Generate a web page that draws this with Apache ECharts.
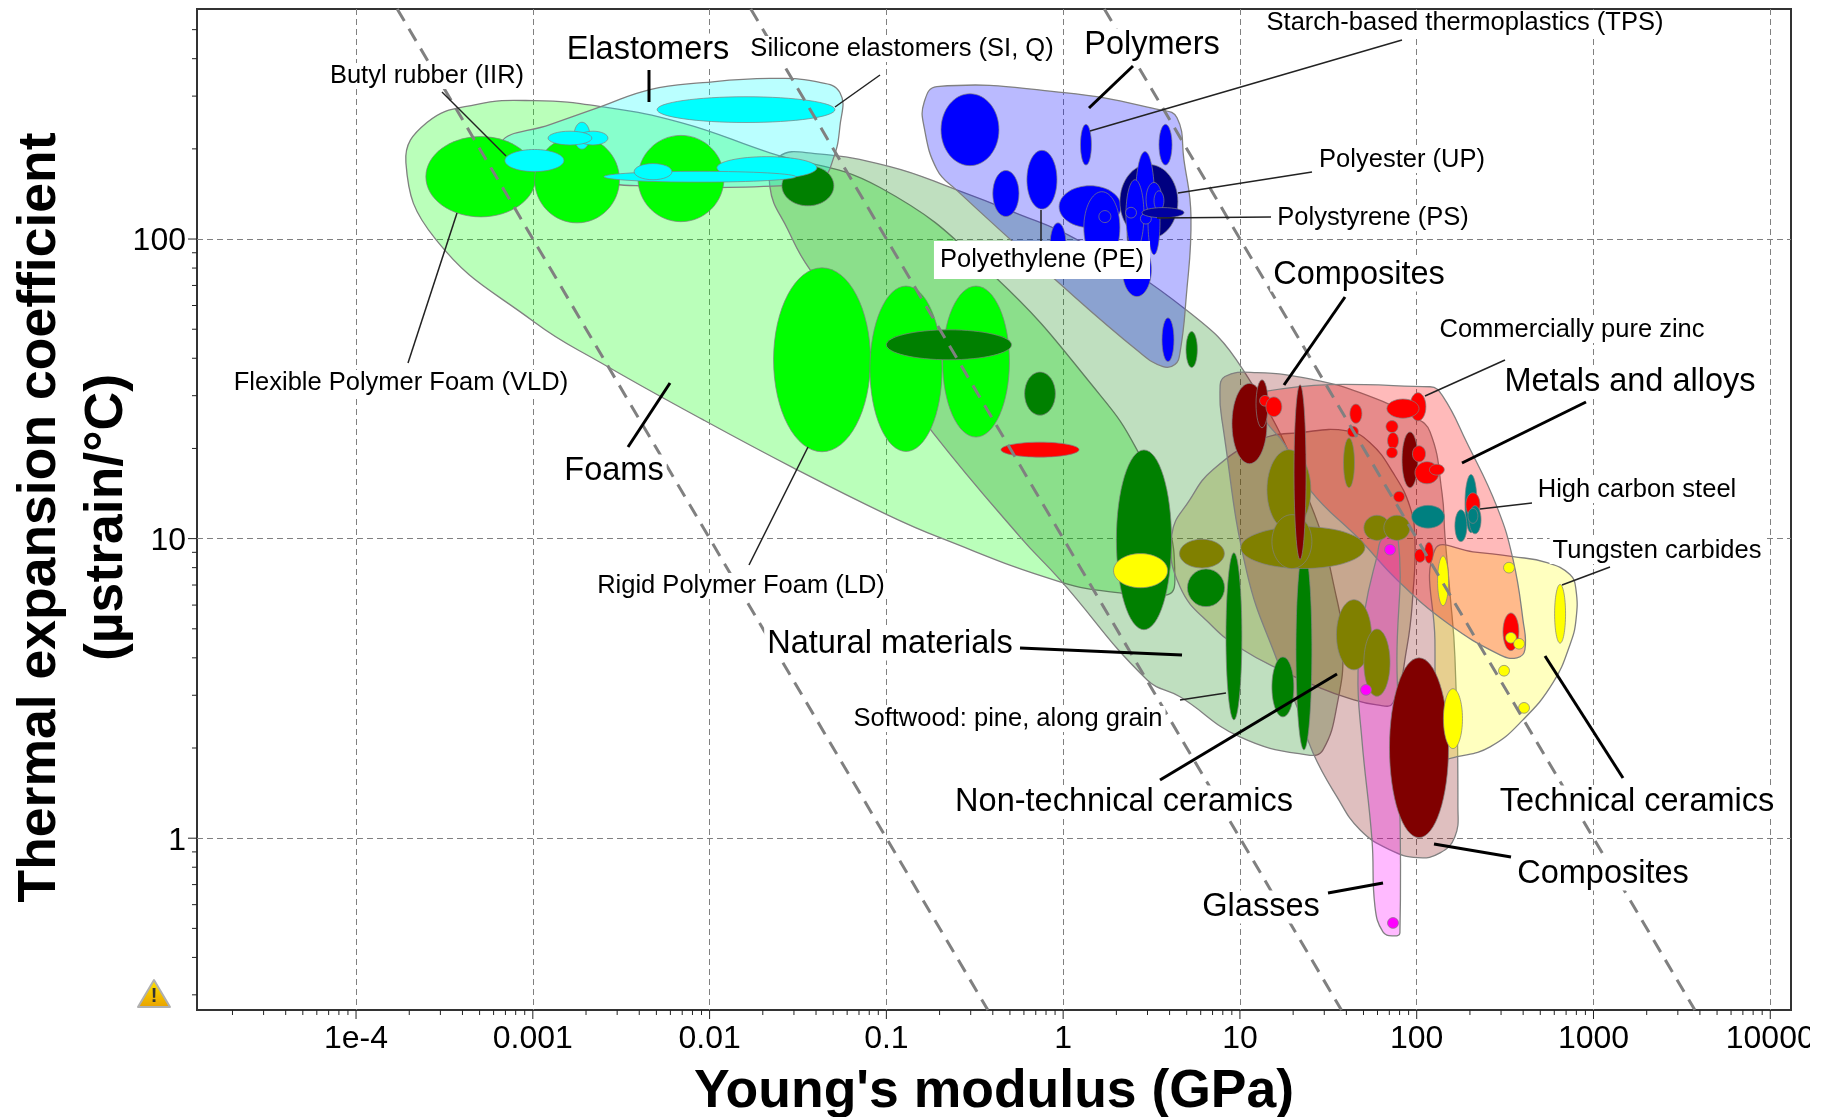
<!DOCTYPE html>
<html>
<head>
<meta charset="utf-8">
<title>Thermal expansion vs Young's modulus</title>
<script src="https://cdn.jsdelivr.net/npm/echarts@6/dist/echarts.min.js"></script>
<style>
  html, body { margin: 0; padding: 0; background: #fff; }
  #chart { width: 1831px; height: 1117px; }
</style>
</head>
<body>
<div id="chart"></div>
<script>
// all material values below are read off the chart as decades:
// outlines  [log10 modulus, log10 expansion]
// bubbles   [log10 modulus, log10 expansion, half width, half height]

const xRange = [1.26e-5, 13100]
const yRange = [0.267, 586]
const xTickValues = [1e-4, 1e-3, 1e-2, 1e-1, 1, 10, 100, 1000, 10000]
const xTickLabels = ['1e-4', '0.001', '0.01', '0.1', '1', '10', '100', '1000', '10000']
const yTickValues = [1, 10, 100]
const yTickLabels = ['1', '10', '100']
const xMinorDecades = [1e-5, 1e-4, 1e-3, 1e-2, 1e-1, 1, 10, 100, 1000, 10000]
const yMinorDecades = [0.1, 1, 10, 100]
const minorSteps = [2, 3, 4, 5, 6, 7, 8, 9]

// dashed guide lines (modulus x expansion = constant)
const guideLow = [[1.71e-4, 586], [0.375, 0.267]]
const guideMid = [[0.0171, 586], [37.5, 0.267]]
const guideHigh = [[1.71, 586], [3745, 0.267]]

// envelopes
const foamOutline = [[-3.718,2.255],[-3.599,2.389],[-3.322,2.449],[-2.994,2.462],[-2.615,2.442],[-2.162,2.389],[-1.659,2.288],[-1.036,2.172],[-.386,1.874],[.208,1.480],[.417,1.297],[.587,1.063],[.632,.869],[.593,.813],[.321,.819],[-.018,.856],[-.697,1.003],[-.997,1.080],[-1.529,1.237],[-2.038,1.397],[-2.615,1.587],[-2.994,1.724],[-3.548,1.998]]
const naturalOutline = [[-1.659,2.175],[-1.608,2.275],[-1.404,2.285],[-.980,2.242],[-.606,2.165],[-.284,2.091],[.078,1.998],[.695,1.764],[1.017,1.564],[1.396,1.120],[1.549,.796],[1.583,.629],[1.555,.462],[1.470,.295],[1.379,.278],[1.000,.338],[.661,.472],[.474,.529],[-.018,.863],[-.244,1.006],[-.737,1.354],[-1.432,1.898],[-1.557,2.031]]
const elastomerOutline = [[-3.175,2.325],[-2.903,2.382],[-2.615,2.442],[-2.337,2.499],[-2.038,2.522],[-1.659,2.536],[-1.404,2.526],[-1.263,2.489],[-1.263,2.375],[-1.302,2.265],[-1.364,2.205],[-1.579,2.178],[-2.417,2.178],[-2.677,2.198],[-3.022,2.248]]
const polymerOutline = [[-.714,2.509],[.005,2.489],[.542,2.432],[.644,2.405],[.683,2.265],[.723,2.075],[.695,1.798],[.661,1.621],[.632,1.581],[.565,1.574],[.434,1.621],[-.063,1.874],[-.606,2.165],[-.714,2.232],[-.787,2.375],[-.787,2.455]]
const ceramicOutline = [[.615,1.013],[.717,1.130],[.847,1.230],[1.113,1.330],[1.340,1.354],[1.605,1.360],[1.736,1.320],[1.866,1.220],[1.962,1.106],[1.990,.996],[1.979,.819],[1.945,.639],[1.866,.452],[1.775,.445],[1.605,.469],[1.453,.502],[1.227,.562],[1.017,.629],[.847,.706],[.661,.839]]
const compositeOutline = [[.887,1.487],[.915,1.541],[1.096,1.554],[1.413,1.531],[1.679,1.487],[1.979,1.407],[2.075,1.357],[2.143,1.153],[2.160,1.006],[2.188,.819],[2.216,.606],[2.233,.105],[2.216,.005],[2.132,-.049],[2.007,-.065],[1.849,-.039],[1.679,.028],[1.549,.138],[1.413,.285],[1.323,.439],[1.209,.596],[1.040,.886],[.904,1.374]]
const technicalOutline = [[2.103,.963],[2.318,.956],[2.545,.940],[2.737,.920],[2.867,.880],[2.901,.829],[2.901,.729],[2.867,.646],[2.771,.519],[2.601,.395],[2.415,.305],[2.228,.272],[2.160,.272],[2.115,.395],[2.103,.662]]
const metalOutline = [[1.125,1.490],[2.075,1.507],[2.149,1.474],[2.284,1.320],[2.454,1.106],[2.545,.930],[2.601,.729],[2.612,.629],[2.567,.602],[2.471,.612],[2.171,.719],[1.888,.863],[1.679,.996],[1.396,1.163],[1.255,1.313],[1.125,1.414]]
const glassOutline = [[1.809,1.003],[1.894,1.003],[1.888,.596],[1.894,.439],[1.905,-.316],[1.866,-.326],[1.809,-.313],[1.764,-.229],[1.747,-.005],[1.690,.329],[1.668,.552],[1.707,.763],[1.775,.940]]

// material bubbles
const foamBubbles = [[-3.294,2.208,.311,.134],[-2.750,2.198,.240,.144],[-2.162,2.202,.243,.144],[-1.364,1.597,.274,.307],[-.889,1.567,.204,.276],[-.493,1.591,.189,.252]]
const naturalBubbles = [[-1.444,2.178,.147,.067],[-.646,1.647,.354,.050],[-.131,1.484,.087,.072],[.727,1.631,.032,.060],[.457,.996,.156,.300],[.808,.836,.105,.063],[.966,.674,.045,.279],[1.243,.505,.062,.100],[1.362,.629,.045,.334]]
const elastomerBubbles = [[-1.794,2.432,.503,.043],[-2.991,2.262,.167,.037],[-2.722,2.345,.045,.045],[-2.660,2.337,.085,.023],[-2.790,2.337,.124,.023],[-1.676,2.238,.283,.037],[-2.055,2.208,.543,.018],[-2.320,2.225,.107,.027]]
const polymerBubbles = [[-.527,2.365,.164,.120],[.129,2.315,.031,.068],[.579,2.315,.037,.068],[-.120,2.198,.085,.098],[-.324,2.152,.074,.077],[-.029,1.981,.045,.073],[.152,2.108,.175,.070],[.219,2.038,.102,.120],[.236,2.075,.034,.020],[.417,1.898,.082,.090],[.593,1.664,.034,.073]]
const polyesterBubbles = [[.485,2.125,.164,.124]]
const thermosetBubbles = [[.463,2.132,.054,.160],[.406,2.081,.051,.117],[.514,2.058,.034,.110],[.514,2.132,.045,.057],[.542,2.128,.028,.033],[.384,2.088,.031,.018],[.468,2.068,.031,.018]]
const darkPolymerBubbles = [[.389,2.015,.028,.050]]
const polystyreneBubbles = [[.565,2.088,.119,.017]]
const oliveBubbles = [[1.277,1.163,.124,.134],[1.356,.970,.351,.070],[1.294,.990,.113,.090],[.785,.950,.127,.048],[1.645,.679,.099,.117],[1.775,.586,.074,.112],[1.617,1.253,.031,.083],[1.775,1.036,.074,.042],[1.888,1.036,.074,.042]]
const maroonBubbles = [[1.054,1.384,.099,.134],[1.125,1.450,.034,.080],[1.340,1.222,.034,.292],[1.962,1.263,.045,.093],[2.013,.302,.167,.300]]
const tallTealBubbles = [[2.307,1.117,.034,.097]]
const redBubbles = [[1.142,1.460,.031,.018],[1.192,1.440,.045,.033],[1.656,1.417,.034,.032],[1.639,1.357,.031,.018],[2.007,1.440,.045,.047],[1.922,1.434,.091,.032],[1.860,1.374,.034,.020],[1.866,1.327,.031,.027],[1.860,1.287,.031,.018],[2.013,1.283,.037,.027],[2.058,1.220,.068,.037],[2.114,1.230,.042,.018],[1.900,1.140,.031,.018],[2.318,1.113,.040,.040],[2.018,.943,.031,.022],[2.069,.953,.025,.035],[2.533,.689,.045,.063],[-.131,1.297,.221,.025]]
const tealBubbles = [[2.064,1.073,.093,.038],[2.250,1.043,.034,.053],[2.330,1.063,.034,.047],[2.318,1.076,.028,.025]]
const yellowBubbles = [[.438,.893,.153,.057],[2.149,.859,.031,.083],[2.522,.903,.031,.018],[2.533,.669,.031,.018],[2.579,.649,.031,.018],[2.811,.749,.031,.098],[2.494,.559,.031,.018],[2.607,.435,.031,.018],[2.205,.399,.054,.100]]
const magentaBubbles = [[1.849,.963,.031,.018],[1.713,.495,.031,.018],[1.866,-.283,.031,.018]]

// annotation text: [text, x, y, size]
const labels = [
  ['Elastomers', 648, 50, 32.5],
  ['Polymers', 1152, 45, 32.5],
  ['Composites', 1359, 275, 32.5],
  ['Metals and alloys', 1630, 382, 32.5],
  ['Foams', 614, 471, 32.5],
  ['Natural materials', 890, 644, 32.5],
  ['Non-technical ceramics', 1124, 802, 32.5],
  ['Technical ceramics', 1637, 802, 32.5],
  ['Composites', 1603, 874, 32.5],
  ['Glasses', 1261, 907, 32.5],
  ['Butyl rubber (IIR)', 427, 76, 25.5],
  ['Silicone elastomers (SI, Q)', 902, 49, 25.5],
  ['Starch-based thermoplastics (TPS)', 1465, 23, 25.5],
  ['Polyester (UP)', 1402, 160, 25.5],
  ['Polystyrene (PS)', 1373, 218, 25.5],
  ['Polyethylene (PE)', 1042, 260, 25.5],
  ['Commercially pure zinc', 1572, 330, 25.5],
  ['Flexible Polymer Foam (VLD)', 401, 383, 25.5],
  ['High carbon steel', 1637, 490, 25.5],
  ['Tungsten carbides', 1657, 551, 25.5],
  ['Rigid Polymer Foam (LD)', 741, 586, 25.5],
  ['Softwood: pine, along grain', 1008, 719, 25.5]
]

// leader lines: [x1, y1, x2, y2, width]
const leaders = [
  [442,92,506,156,1.5],[880,75,835,107,1.5],[457,213,408,363,1.5],[808,447,749,565,1.5],
  [1180,700,1226,693,1.5],[1402,40,1090,131,1.5],[1312,172,1178,193,1.5],[1271,217,1157,218,1.5],
  [1041,210,1041,242,1.5],[1505,360,1425,396,1.5],[1532,503,1480,509,1.5],[1610,567,1562,585,1.5],
  [649,70,649,102,3],[670,383,628,447,3],[1020,648,1182,655,3],[1337,674,1160,780,3],
  [1133,66,1089,108,3],[1345,297,1284,385,3],[1586,402,1462,463,3],[1545,656,1623,778,3],
  [1434,844,1511,857,3],[1328,893,1383,883,3]
]

const fontFamily = '"Liberation Sans", Arial, sans-serif'
const outlineStroke = '#808080'

function toValues(rows) {
  return rows.map(r => [Math.pow(10, r[0]), Math.pow(10, r[1]), r[2], r[3]])
}

function envelopeSeries(points, color, opacity) {
  return {
    type: 'custom',
    silent: true,
    data: toValues(points),
    encode: { x: 0, y: 1 },
    renderItem(params, api) {
      if (params.dataIndex !== 0) return null
      const pts = points.map(p => api.coord([Math.pow(10, p[0]), Math.pow(10, p[1])]))
      return {
        type: 'polygon',
        shape: { points: pts, smooth: 0.45 },
        style: { fill: color, fillOpacity: opacity, stroke: outlineStroke, lineWidth: 1.3 }
      }
    }
  }
}

function bubbleSeries(rows, color) {
  return {
    type: 'custom',
    silent: true,
    data: toValues(rows),
    encode: { x: 0, y: 1 },
    renderItem(params, api) {
      const r = rows[params.dataIndex]
      const c = api.coord([api.value(0), api.value(1)])
      const right = api.coord([Math.pow(10, r[0] + r[2]), api.value(1)])
      const top = api.coord([api.value(0), Math.pow(10, r[1] + r[3])])
      return {
        type: 'ellipse',
        shape: { cx: c[0], cy: c[1], rx: right[0] - c[0], ry: c[1] - top[1] },
        style: { fill: color, stroke: 'rgba(128,128,128,0.7)', lineWidth: 1 }
      }
    }
  }
}

function guideSeries(points) {
  return {
    type: 'line',
    silent: true,
    data: points,
    symbol: 'none',
    lineStyle: { color: '#808080', width: 3, type: [14, 9] }
  }
}

// tick marks sit outside the frame, log spaced, so they are drawn here
function tickSeries(values, vertical, size) {
  return {
    type: 'custom',
    silent: true,
    data: values.map(v => (vertical ? [v, yRange[0]] : [xRange[0], v])),
    encode: { x: 0, y: 1 },
    renderItem(params, api) {
      const p = api.coord([api.value(0), api.value(1)])
      return {
        type: 'line',
        shape: vertical
          ? { x1: p[0], y1: p[1], x2: p[0], y2: p[1] + size }
          : { x1: p[0], y1: p[1], x2: p[0] - size, y2: p[1] },
        style: { stroke: '#222', lineWidth: 1 }
      }
    }
  }
}

function minorTicks(decades, range) {
  const out = []
  decades.forEach(d => minorSteps.forEach(s => {
    const v = d * s
    if (v > range[0] && v < range[1]) out.push(v)
  }))
  return out
}

function tickFormatter(values, names) {
  return v => {
    const i = values.findIndex(t => Math.abs(Math.log10(t) - Math.log10(v)) < 1e-6)
    return i < 0 ? '' : names[i]
  }
}

const splitStyle = { show: true, showMinLine: false, showMaxLine: false, lineStyle: { color: '#808080', width: 1, type: [6, 4] } }

const chart = echarts.init(document.getElementById('chart'), null, { renderer: 'canvas' })
chart.setOption({
  animation: false,
  backgroundColor: '#fff',
  grid: { left: 197, right: 40, top: 9, bottom: 107, outerBoundsMode: 'none', show: true, borderColor: '#333', borderWidth: 2, backgroundColor: 'transparent' },
  xAxis: {
    type: 'log',
    logBase: 10,
    min: xRange[0],
    max: xRange[1],
    splitNumber: 10,
    name: "Young's modulus (GPa)",
    nameLocation: 'middle',
    nameGap: 55,
    nameMoveOverlap: false,
    nameTextStyle: { fontFamily, fontSize: 53.5, fontWeight: 'bold', color: '#000' },
    axisLine: { show: false },
    axisTick: { show: false },
    axisLabel: { fontFamily, fontSize: 32, color: '#000', margin: 13, showMinLabel: false, showMaxLabel: false, hideOverlap: false, interval: 0, formatter: tickFormatter(xTickValues, xTickLabels) },
    splitLine: splitStyle
  },
  yAxis: {
    type: 'log',
    logBase: 10,
    min: yRange[0],
    max: yRange[1],
    splitNumber: 5,
    name: 'Thermal expansion coefficient\n(µstrain/°C)',
    nameLocation: 'middle',
    nameGap: 56,
    nameMoveOverlap: false,
    nameTextStyle: { fontFamily, fontSize: 53.5, fontWeight: 'bold', color: '#000', lineHeight: 67, padding: [0, 16, 0, 0] },
    axisLine: { show: false },
    axisTick: { show: false },
    axisLabel: {
      color: '#000',
      margin: 11,
      showMinLabel: false,
      showMaxLabel: false,
      hideOverlap: false,
      interval: 0,
      formatter: v => {
        const text = tickFormatter(yTickValues, yTickLabels)(v)
        return text ? '{tick|' + text + '}' : ''
      },
      rich: { tick: { fontFamily, fontSize: 32, color: '#000', padding: [5, 0, 0, 0] } }
    },
    splitLine: splitStyle
  },
  series: [
    envelopeSeries(foamOutline, '#00ff00', 0.27),
    envelopeSeries(naturalOutline, '#008000', 0.25),
    envelopeSeries(elastomerOutline, '#00ffff', 0.27),
    envelopeSeries(polymerOutline, '#0000ff', 0.27),
    envelopeSeries(ceramicOutline, '#808000', 0.25),
    envelopeSeries(compositeOutline, '#800000', 0.25),
    envelopeSeries(technicalOutline, '#ffff00', 0.25),
    envelopeSeries(metalOutline, '#ff0000', 0.27),
    envelopeSeries(glassOutline, '#ff00ff', 0.27),
    bubbleSeries(foamBubbles, '#00ff00'),
    bubbleSeries(naturalBubbles, '#008000'),
    bubbleSeries(elastomerBubbles, '#00ffff'),
    bubbleSeries(polymerBubbles, '#0000ff'),
    bubbleSeries(polyesterBubbles, '#000080'),
    bubbleSeries(darkPolymerBubbles, '#000080'),
    bubbleSeries(thermosetBubbles, '#0000ff'),
    bubbleSeries(polystyreneBubbles, '#0000a0'),
    bubbleSeries(oliveBubbles, '#808000'),
    bubbleSeries(maroonBubbles, '#800000'),
    bubbleSeries(tallTealBubbles, '#008080'),
    bubbleSeries(redBubbles, '#ff0000'),
    bubbleSeries(tealBubbles, '#008080'),
    bubbleSeries(yellowBubbles, '#ffff00'),
    bubbleSeries(magentaBubbles, '#ff00ff'),
    guideSeries(guideLow),
    guideSeries(guideMid),
    guideSeries(guideHigh),
    tickSeries(minorTicks(xMinorDecades, xRange), true, 5),
    tickSeries(xTickValues, true, 9),
    tickSeries(minorTicks(yMinorDecades, yRange), false, 5),
    tickSeries(yTickValues, false, 9)
  ],
  graphic: [
    ...leaders.map(l => ({
      type: 'line',
      z: 50,
      shape: { x1: l[0], y1: l[1], x2: l[2], y2: l[3] },
      style: { stroke: l[4] > 2 ? '#000' : '#222', lineWidth: l[4] }
    })),
    ...labels.map(t => ({
      type: 'text',
      z: 60,
      x: t[1],
      y: t[2],
      style: {
        text: t[0],
        font: t[3] + 'px ' + fontFamily,
        fill: '#000',
        align: 'center',
        verticalAlign: 'middle',
        backgroundColor: '#fff',
        padding: t[0].startsWith('Polyethylene') ? [6, 6, 6, 6] : [0, 3, 0, 3]
      }
    })),
    // warning marker at the lower left
    {
      type: 'polygon',
      z: 60,
      shape: { points: [[154, 980], [170, 1007], [138, 1007]] },
      style: {
        fill: new echarts.graphic.LinearGradient(0, 0, 0, 1, [
          { offset: 0, color: '#ffe600' },
          { offset: 1, color: '#e8a000' }
        ]),
        stroke: '#b0b0b0',
        lineWidth: 2,
        lineJoin: 'round'
      }
    },
    {
      type: 'text',
      z: 61,
      x: 154,
      y: 996,
      style: { text: '!', font: 'bold 20px ' + fontFamily, fill: '#333', align: 'center', verticalAlign: 'middle' }
    },
    // the tick label at the far right is cut off in the original window
    { type: 'rect', z: 70, shape: { x: 1810, y: 1015, width: 21, height: 60 }, style: { fill: '#fff' } }
  ]
})
</script>
</body>
</html>
